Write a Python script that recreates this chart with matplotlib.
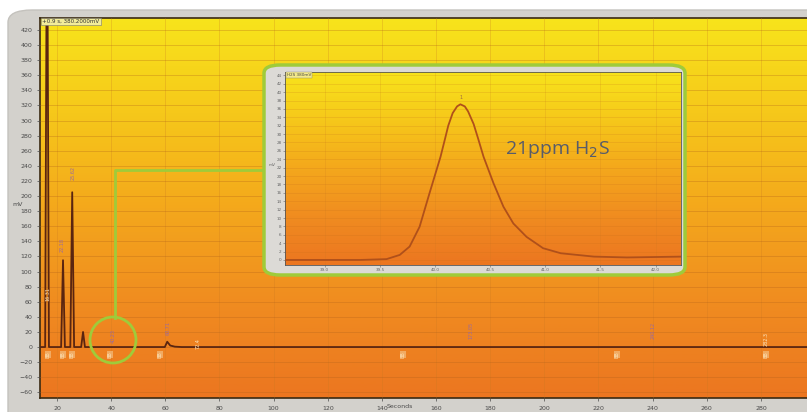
import numpy as np
import matplotlib.pyplot as plt
from matplotlib.colors import LinearSegmentedColormap
from matplotlib.patches import FancyBboxPatch, Ellipse
from matplotlib.lines import Line2D

# main chromatogram trace (seconds, mV)
trace_t = [13.7, 15.6, 16.3, 17.0, 21.5, 22.2, 22.9, 24.9, 25.6, 26.3,
           28.9, 29.6, 30.3, 59.8, 60.7, 61.8, 63.5, 66.0, 298.0]
trace_mv = [0, 0, 640, 0, 0, 115, 0, 0, 205, 0,
            0, 20, 0, 0, 7, 2, 0.5, 0, 0]

# peak annotations above the baseline (time, mV, label)
peak_lab_t = [16.5, 22.0, 25.8, 40.6, 60.9, 72.3, 173.0, 240.0, 282.0]
peak_lab_mv = [70, 135, 230, 14, 25, 5, 22, 22, 10]
peak_lab_txt = ["16.31", "22.18", "25.62", "40.23", "60.71", "72.4", "173.05", "240.12", "282.3"]
peak_lab_dark = [False, True, True, True, True, False, True, True, False]

# markers below baseline
mark_t = [16.7, 22.2, 25.6, 39.6, 58.1, 147.8, 227.0, 282.0]

# inset: H2S peak
inset_t = [38.65, 39.32, 39.56, 39.68, 39.77, 39.86, 39.95, 40.05, 40.09, 40.12,
           40.16, 40.20, 40.23, 40.27, 40.30, 40.35, 40.39, 40.44, 40.53, 40.62,
           40.71, 40.83, 40.98, 41.14, 41.44, 41.74, 42.24]
inset_mv = [0.0, 0.0, 0.2, 1.2, 3.2, 7.9, 15.9, 24.6, 28.8, 32.0,
            35.0, 36.6, 37.1, 36.6, 35.4, 32.4, 29.0, 24.6, 18.3, 12.7,
            8.7, 5.5, 2.8, 1.6, 0.8, 0.6, 0.8]
inset_xticks = [39.0, 39.5, 40.0, 40.5, 41.0, 41.5, 42.0]
inset_yticks = list(range(0, 46, 2))

W, H = 807, 412
fig = plt.figure(figsize=(W / 100, H / 100), dpi=100)
fig.patch.set_facecolor("white")

def fx(px):
    return px / W

def fy(py):
    return 1 - py / H

# gray rounded panel behind the chart
panel = FancyBboxPatch((fx(8), fy(430)), fx(830), fy(10) - fy(430),
                       boxstyle="round,pad=0,rounding_size=0.03",
                       transform=fig.transFigure, facecolor="#d3d1cc",
                       edgecolor="#c4c2bd", lw=1, zorder=-5)
fig.patches.append(panel)

grad = LinearSegmentedColormap.from_list(
    "yo", ["#f8e41c", "#f6c81a", "#f4a81c", "#f08c20", "#ec7620"])

def gradient_bg(ax):
    ax.imshow(np.linspace(0, 1, 256).reshape(-1, 1), aspect="auto", cmap=grad,
              extent=[0, 1, 0, 1], transform=ax.transAxes, zorder=0,
              interpolation="bicubic")

# main axes
ax = fig.add_axes([fx(40), fy(398), fx(807 - 40) + 0.01, fy(18) - fy(398)], zorder=1)
gradient_bg(ax)
ax.set_xlim(13.7, 300)
ax.set_ylim(-67.5, 435.8)
ax.set_xticks(range(20, 300, 20))
ax.set_yticks(range(-60, 421, 20))
ax.tick_params(labelsize=4.5, colors="#4a4a4a", length=2, width=0.5)
ax.grid(True, axis="y", color="#b0601a", alpha=0.35, lw=0.6)
ax.grid(True, axis="x", color="#c87820", alpha=0.3, lw=0.6)
ax.set_axisbelow(False)
for s in ax.spines.values():
    s.set_color("#3a2a12")
    s.set_linewidth(1.2)

ax.plot(trace_t, trace_mv, color="#5a2510", lw=1.3, zorder=3)

for t, v, txt, dark in zip(peak_lab_t, peak_lab_mv, peak_lab_txt, peak_lab_dark):
    ax.text(t, v, txt, rotation=90, fontsize=3.5, ha="center", va="center",
            color="#9a6aa0" if dark else "#fbe7c2", zorder=4)
for t in mark_t:
    ax.text(t, -10, "BB", rotation=90, fontsize=3.5, ha="center", va="center",
            color="#fbe3b8", zorder=4,
            bbox=dict(boxstyle="square,pad=0.1", fc="#f5c890", ec="none", alpha=0.6))

ax.text(0.003, 0.997, "+0.9 s, 380.2000mV", transform=ax.transAxes, fontsize=4,
        ha="left", va="top", color="#333",
        bbox=dict(boxstyle="square,pad=0.2", fc="#f2ec9a", ec="#777", lw=0.4))

fig.text(fx(18), fy(205), "mV", fontsize=4.5, color="#4a4a4a", ha="center", va="center")
fig.text(fx(400), fy(407), "Seconds", fontsize=4.5, color="#4a4a4a", ha="center", va="center")

# green highlight and connector
green = "#9fcb3a"
fig.patches.append(Ellipse((fx(113), fy(340)), fx(46), fy(0) - fy(46), fill=False,
                           ec=green, lw=2, transform=fig.transFigure, zorder=5))
fig.lines.append(Line2D([fx(115), fx(115), fx(265)], [fy(318), fy(170), fy(170)],
                        color=green, lw=2, transform=fig.transFigure, zorder=5))

# inset panel
ipanel = FancyBboxPatch((fx(264), fy(275)), fx(685 - 264), fy(65) - fy(275),
                        boxstyle="round,pad=0,rounding_size=0.02",
                        transform=fig.transFigure, facecolor="#dcdad6",
                        edgecolor=green, lw=2.5, zorder=6)
fig.patches.append(ipanel)

ax2 = fig.add_axes([fx(285), fy(265), fx(681 - 285), fy(72) - fy(265)], zorder=7)
gradient_bg(ax2)
ax2.set_xlim(38.64, 42.23)
ax2.set_ylim(-1.2, 44.8)
ax2.set_xticks(inset_xticks)
ax2.set_yticks(inset_yticks)
ax2.tick_params(labelsize=3, colors="#666", length=1.5, width=0.4, pad=1)
ax2.grid(True, axis="y", color="#c06a1a", alpha=0.25, lw=0.5)
ax2.grid(True, axis="x", color="#c87820", alpha=0.25, lw=0.5)
for s in ax2.spines.values():
    s.set_color("#555")
    s.set_linewidth(0.6)
ax2.plot(inset_t, inset_mv, color="#b0501a", lw=1.3, zorder=3)
ax2.text(40.24, 38.3, "1", fontsize=3.5, color="#a06a40", ha="center")
ax2.text(0.005, 0.995, "H2S 380mV", transform=ax2.transAxes, fontsize=3, ha="left",
         va="top", color="#444",
         bbox=dict(boxstyle="square,pad=0.2", fc="#f4ea8a", ec="#888", lw=0.3))
fig.text(fx(272), fy(165), "mV", fontsize=3, color="#666", ha="center", va="center", zorder=8)
ax2.text(0.555, 0.6, "21ppm H$_2$S", transform=ax2.transAxes, fontsize=14,
         color="#585c6a", family="Open Sans", ha="left", va="center")

fig.savefig("out.png", dpi=100)
